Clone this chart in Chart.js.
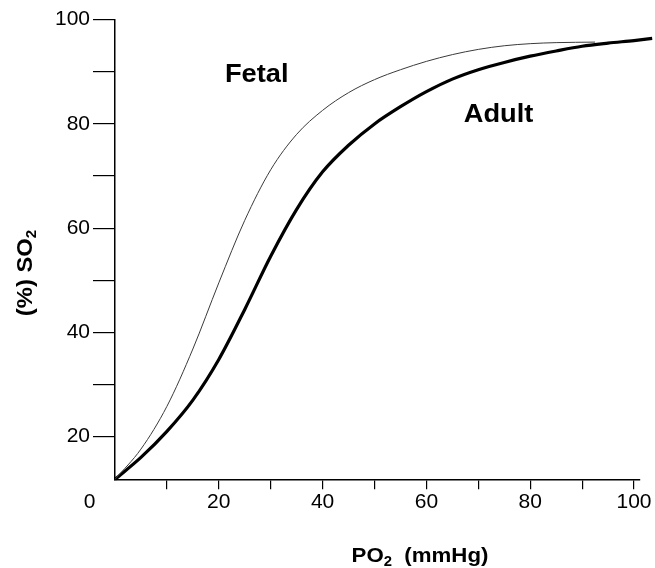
<!DOCTYPE html>
<html>
<head>
<meta charset="utf-8">
<script src="https://cdn.jsdelivr.net/npm/chart.js@4.4.1/dist/chart.umd.min.js"></script>
<style>
  html, body { margin: 0; padding: 0; background: #fff; }
  #wrap { width: 655px; height: 568px; position: relative; }
</style>
</head>
<body>
<div id="wrap"><canvas id="odc"></canvas></div>
<script>
// Oxygen dissociation curves: haemoglobin saturation (%) against PO2 (mmHg)
const adultPO2 = [0, 5, 10, 15, 20, 25, 30, 35, 40, 45, 50, 55, 60, 65, 70, 75, 80, 85, 90, 95, 100, 103.5];
const adultSO2 = [11.8, 16.0, 21.0, 27.0, 34.8, 44.4, 54.6, 63.6, 70.8, 75.9, 80.0, 83.3, 86.2, 88.6, 90.4, 91.8, 93.0, 94.0, 94.9, 95.5, 96.0, 96.4];

const fetalPO2 = [0, 5, 10, 15, 20, 25, 30, 35, 40, 45, 50, 55, 60, 65, 70, 75, 80, 85, 92.5];
const fetalSO2 = [11.8, 17.6, 25.8, 36.8, 49.5, 61.5, 71.2, 78.0, 82.6, 86.0, 88.5, 90.4, 92.0, 93.3, 94.3, 95.0, 95.4, 95.6, 95.7];

const xTickLabels = ['20', '40', '60', '80', '100'];
const yTickLabels = ['20', '40', '60', '80', '100'];
const originLabel = '0';
const seriesNames = ['Fetal', 'Adult'];
const xTitleParts = ['PO', '2', '  (mmHg)'];
const yTitleParts = ['(%) SO', '2'];

const FONT = "'Liberation Sans', Arial, Helvetica, sans-serif";

const toPoints = (xs, ys) => xs.map((v, i) => ({ x: v, y: ys[i] }));

// Draws text with a subscript part, slightly widened like the original lettering
function drawSubscripted(ctx, parts, size, subSize, subDrop, stretch) {
  ctx.font = `bold ${size}px ${FONT}`;
  const w0 = ctx.measureText(parts[0]).width;
  const w2 = ctx.measureText(parts[2] || '').width;
  ctx.font = `bold ${subSize}px ${FONT}`;
  const w1 = ctx.measureText(parts[1]).width;
  const total = w0 + w1 + w2;
  ctx.scale(stretch, 1);
  let cx = -total / 2;
  ctx.textAlign = 'left';
  ctx.textBaseline = 'alphabetic';
  ctx.font = `bold ${size}px ${FONT}`;
  ctx.fillText(parts[0], cx, 0);
  cx += w0;
  ctx.font = `bold ${subSize}px ${FONT}`;
  ctx.fillText(parts[1], cx, subDrop);
  cx += w1;
  if (parts[2]) {
    ctx.font = `bold ${size}px ${FONT}`;
    ctx.fillText(parts[2], cx, 0);
  }
}

const figureText = {
  id: 'figureText',
  afterDraw(chart, args, opts) {
    const { ctx, chartArea: a, scales: { x, y } } = chart;
    ctx.save();
    ctx.fillStyle = '#000';

    // corner label shared by both axes
    ctx.font = `21px ${FONT}`;
    ctx.textAlign = 'center';
    ctx.textBaseline = 'middle';
    ctx.fillText(originLabel, a.left - 25.5, a.bottom + opts.xTickLength + opts.xTickPad + 12.6);

    // x-axis title
    ctx.save();
    ctx.translate(420, 561.7);
    drawSubscripted(ctx, xTitleParts, 21, 14, 4, 1.06);
    ctx.restore();

    // y-axis title, rotated
    ctx.save();
    ctx.translate(24, 273);
    ctx.rotate(-Math.PI / 2);
    ctx.translate(0, 8);
    drawSubscripted(ctx, yTitleParts, 22, 14, 4, 1.08);
    ctx.restore();

    // curve names
    ctx.font = `bold 25px ${FONT}`;
    ctx.textAlign = 'center';
    ctx.textBaseline = 'alphabetic';
    opts.curveNames.forEach(c => {
      ctx.save();
      ctx.translate(x.getPixelForValue(c.x), y.getPixelForValue(c.y));
      ctx.scale(1.09, 1);
      ctx.fillText(c.text, 0, 0);
      ctx.restore();
    });
    ctx.restore();
  }
};

new Chart(document.getElementById('odc'), {
  type: 'scatter',
  data: {
    datasets: [
      {
        label: seriesNames[0],
        data: toPoints(fetalPO2, fetalSO2),
        showLine: true,
        borderColor: '#3a3a3a',
        borderWidth: 1,
        pointRadius: 0,
        cubicInterpolationMode: 'monotone',
        fill: false,
        clip: false
      },
      {
        label: seriesNames[1],
        data: toPoints(adultPO2, adultSO2),
        showLine: true,
        borderColor: '#000',
        borderWidth: 3.2,
        pointRadius: 0,
        cubicInterpolationMode: 'monotone',
        fill: false,
        clip: false
      }
    ]
  },
  options: {
    responsive: true,
    maintainAspectRatio: false,
    animation: false,
    events: [],
    layout: { padding: { top: 19.7, right: 15.8, bottom: 0, left: 0 } },
    plugins: {
      legend: { display: false },
      tooltip: { enabled: false },
      figureText: {
        xTickLength: 10,
        xTickPad: 0,
        curveNames: [
          { text: seriesNames[0], x: 27.3, y: 88.1 },
          { text: seriesNames[1], x: 73.9, y: 80.4 }
        ]
      }
    },
    scales: {
      x: {
        type: 'linear',
        min: 0,
        max: 101,
        afterFit(s) { s.height = 88.7; },
        afterBuildTicks(s) { s.ticks = s.ticks.filter(t => t.value !== 0); },
        ticks: {
          stepSize: 10,
          includeBounds: false,
          autoSkip: false,
          maxRotation: 0,
          padding: 0,
          color: '#000',
          font: { family: FONT, size: 21 },
          callback: v => (xTickLabels.includes(String(v)) ? String(v) : '')
        },
        grid: { drawOnChartArea: false, drawTicks: true, tickLength: 10, color: '#000', lineWidth: 1.2 },
        border: { display: true, color: '#000', width: 1.5 }
      },
      y: {
        type: 'linear',
        min: 11.8,
        max: 100,
        afterFit(s) { s.width = 115; },
        ticks: {
          stepSize: 10,
          includeBounds: false,
          autoSkip: false,
          padding: 3,
          color: '#000',
          font: { family: FONT, size: 21 },
          callback: v => (yTickLabels.includes(String(v)) ? String(v) : '')
        },
        grid: { drawOnChartArea: false, drawTicks: true, tickLength: 22, color: '#000', lineWidth: 1.2 },
        border: { display: true, color: '#000', width: 1.5 }
      }
    }
  },
  plugins: [figureText]
});
</script>
</body>
</html>
